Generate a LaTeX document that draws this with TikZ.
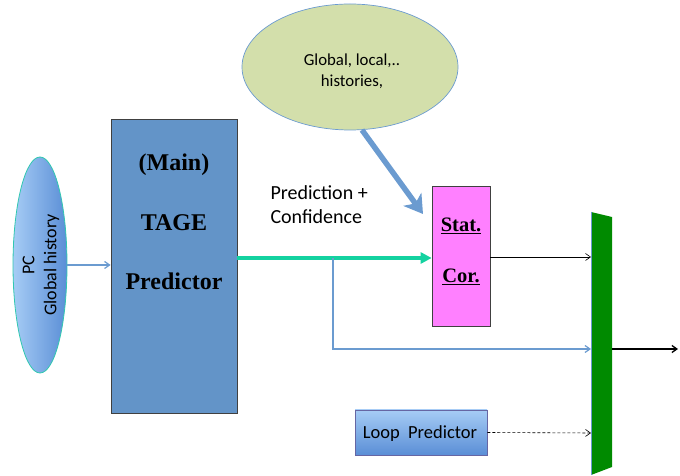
\documentclass[tikz,border=0pt]{standalone}
\usepackage{fontspec}
\setmainfont{Liberation Serif}
\newfontfamily\calib{Carlito}
\usetikzlibrary{arrows.meta,shapes.geometric}
\definecolor{tageblue}{HTML}{6394C8}
\definecolor{tealarr}{HTML}{14D2A0}
\definecolor{magbox}{HTML}{FF80FF}
\definecolor{muxgreen}{HTML}{008A00}
\definecolor{olivebg}{HTML}{D3DFAB}
\definecolor{linkblue}{HTML}{6B9BD0}
\definecolor{pcedge}{HTML}{30C8B0}
\definecolor{gradlight}{HTML}{A6CCF5}
\definecolor{graddark}{HTML}{5A8ED6}
\tikzset{
  bigbox/.style={draw=black!75, line width=0.8pt, minimum width=126pt, minimum height=294pt, fill=tageblue, inner sep=0pt},
  sertext/.style={font=\bfseries\fontsize{24}{28}\selectfont},
  sanstext/.style={font=\calib\fontsize{16}{19}\selectfont, text=black},
  thinarr/.style={-{Straight Barb[length=5pt,width=7pt]}, line width=0.6pt},
}
\begin{document}
\begin{tikzpicture}[x=1pt,y=1pt]
\useasboundingbox (0,0) rectangle (680,476);
% PC ellipse
\node[ellipse, draw=pcedge, line width=0.8pt, left color=gradlight, right color=graddark, minimum width=54pt, minimum height=216pt, inner sep=0pt] (pc) at (40,211) {};
\node[rotate=90, sanstext, font=\calib\fontsize{18}{22}\selectfont, align=center] (pctext) at (41,211) {PC\\Global history};
% TAGE box
\node[bigbox] (tage) at (174,210) {};
\node[sertext] (tmain) at (174,311) {(Main)};
\node[sertext] (ttage) at (174,253) {TAGE};
\node[sertext] (tpred) at (174,195) {Predictor};
% green ellipse
\node[ellipse, draw=linkblue, line width=0.7pt, fill=olivebg, minimum width=216pt, minimum height=126pt, inner sep=0pt] (hist) at (350,409) {};
\node[sanstext, font=\calib\fontsize{16.8}{21}\selectfont, align=center] (histtext) at (352,405) {Global, local,..\\histories,};
% Stat Cor box
\node[draw=black!75, line width=0.7pt, fill=magbox, minimum width=58pt, minimum height=140pt, inner sep=0pt] (stat) at (461,220) {};
\node[sertext, font=\bfseries\fontsize{20.5}{24}\selectfont] (tstat) at (461,250) {\underline{Stat.}};
\node[sertext, font=\bfseries\fontsize{20.5}{24}\selectfont] (tcor) at (461,199) {\underline{Cor.}};
% Loop predictor
\node[draw=black!60!blue!60, line width=0.7pt, top color=gradlight, bottom color=graddark, minimum width=132pt, minimum height=45pt, inner sep=0pt] (loop) at (421,43.5) {};
\node[sanstext, font=\calib\fontsize{18.5}{22}\selectfont] (looptext) at (420,42.5) {Loop\ \ Predictor};
% mux
\coordinate (m1) at (591,264);
\coordinate (m2) at (612,259);
\coordinate (m3) at (612,9);
\coordinate (m4) at (591,1);
\fill[muxgreen] (m1) -- (m2) -- (m3) -- (m4) -- cycle;
\draw[linkblue, line width=0.7pt] (m1) -- (m4);
\coordinate (minA) at (591,219);
\coordinate (minB) at (591,127);
\coordinate (minC) at (591,43);
\coordinate (mout) at (612,127);
\coordinate (outend) at (678,127);
% text prediction
\node[sanstext, font=\calib\fontsize{20}{24}\selectfont, align=left, anchor=west] (predtext) at (267,271) {Prediction +\\Confidence};
% arrows
\draw[-{Straight Barb[length=5pt,width=7pt]}, linkblue, line width=1.2pt] (pc.east) -- (tage.west |- pc.east);
\coordinate (junc) at (333,218);
\draw[tealarr, line width=3.5pt, -{Triangle[length=11pt,width=11pt]}] (tage.east |- junc) -- (stat.west |- junc);
\draw[thinarr, linkblue, line width=1.2pt] (junc) -- (333,127) -- (minB);
\draw[thinarr, black] (stat.east |- minA) -- (minA);
\draw[thinarr, black, dashed, dash pattern=on 3pt off 2pt] (loop.east) -- (minC);
\draw[thinarr, black, line width=1.3pt] (mout) -- (outend);
\coordinate (hstart) at (362,346);
\coordinate (hend) at (423,262);
\draw[linkblue, line width=5.5pt, -{Triangle[length=18pt,width=22pt, inset=5pt]}] (hstart) -- (hend);
\end{tikzpicture}
\end{document}
